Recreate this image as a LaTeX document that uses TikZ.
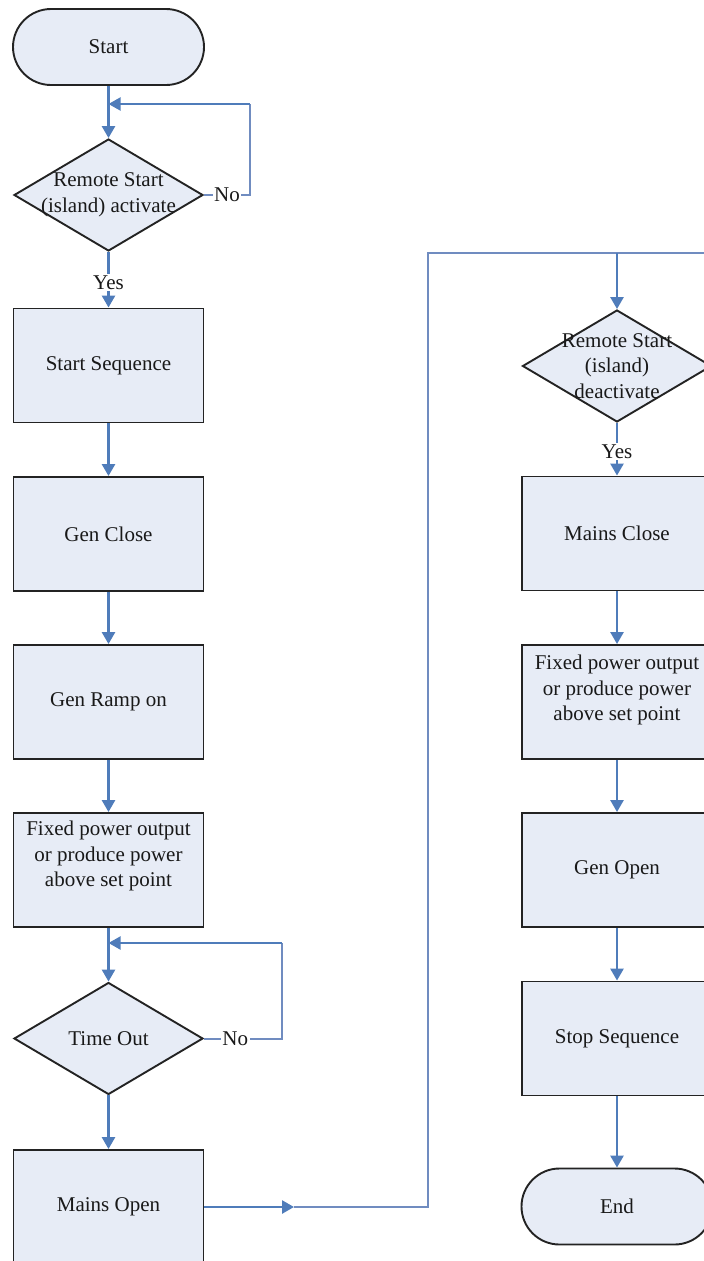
\documentclass[tikz,border=0pt]{standalone}
\usepackage{fontspec}
\setmainfont{Liberation Serif}
\usetikzlibrary{shapes.geometric,arrows.meta}
\definecolor{boxfill}{RGB}{231,236,246}
\definecolor{arrblue}{RGB}{79,124,186}
\definecolor{wire}{RGB}{112,140,192}
\definecolor{edgegray}{RGB}{35,35,35}
\definecolor{txtgray}{RGB}{25,25,25}
\begin{document}
\begin{tikzpicture}[x=1pt,y=-1pt,
  font=\fontsize{21}{25.5}\selectfont,
  every node/.style={text=txtgray},
  proc/.style={rectangle, draw=edgegray, line width=1.9pt, fill=boxfill, minimum width=190pt, minimum height=114pt, inner sep=0pt},
  term/.style={rectangle, rounded corners=38pt, draw=edgegray, line width=1.9pt, fill=boxfill, minimum width=191pt, minimum height=76pt},
  dec/.style={diamond, draw=edgegray, line width=1.9pt, fill=boxfill, minimum width=189pt, minimum height=112pt, inner sep=0pt},
  txt/.style={align=center, inner sep=0pt},
  arr/.style={draw=arrblue, line width=2.6pt, -{Triangle[length=12pt,width=13pt]}},
  wireline/.style={draw=wire, line width=2pt},
  wirearr/.style={draw=wire, line width=2pt, -{Triangle[length=12pt,width=13pt]}, arrblue},
  lbl/.style={fill=white, inner sep=1.5pt}
]
\useasboundingbox (0,0) rectangle (704,1261);
\clip (0,0) rectangle (704,1261);

% ---------- left column ----------
\node[term] (start) at (108.5,47) {Start};
\node[dec] (d1) at (108.5,195) {};
\node[txt] (d1t) at (108.5,195) {Remote Start\\(island) activate};
\node[proc] (sseq) at (108.5,365.5) {Start Sequence};
\node[proc] (gclose) at (108.5,534) {Gen Close};
\node[proc] (gramp) at (108.5,702) {Gen Ramp on};
\node[proc] (fix1) at (108.5,870) {};
\node[txt] (fix1t) at (108.5,856) {Fixed power output\\or produce power\\above set point};
\node[dec] (tout) at (108.5,1038.5) {};
\node[txt] (toutt) at (108.5,1038.5) {Time Out};
\node[proc] (mopen) at (108.5,1207) {Mains Open};

% ---------- right column ----------
\node[dec] (d2) at (617,366) {};
\node[txt] (d2t) at (617,366) {Remote Start\\(island)\\deactivate};
\node[proc] (mclose) at (617,533.5) {Mains Close};
\node[proc] (fix2) at (617,702) {};
\node[txt] (fix2t) at (617,690) {Fixed power output\\or produce power\\above set point};
\node[proc] (gopen) at (617,870) {Gen Open};
\node[proc] (stopseq) at (617,1038.5) {Stop Sequence};
\node[term] (endn) at (617,1206.5) {End};

% ---------- helper coordinates ----------
\coordinate (j1) at (108.5,104);
\coordinate (r1) at (250,104);
\coordinate (j2) at (108.5,943);
\coordinate (r2) at (282,943);
\coordinate (m1) at (294,1207);
\coordinate (c1) at (427.5,253);
\coordinate (c2) at (704,253);
\coordinate (j3) at (617,253);

% ---------- connectors left ----------
\draw[arr] (start.south) -- (d1.north);
\draw[wireline] (d1.east) -- node[lbl, pos=0.5] {No} (r1 |- d1.east) -- (r1);
\draw[wirearr] (r1) -- (j1);
\draw[arr] (d1.south) -- node[lbl, pos=0.55] {Yes} (sseq.north);
\draw[arr] (sseq.south) -- (gclose.north);
\draw[arr] (gclose.south) -- (gramp.north);
\draw[arr] (gramp.south) -- (fix1.north);
\draw[arr] (fix1.south) -- (tout.north);
\draw[wireline] (tout.east) -- node[lbl, pos=0.4] {No} (r2 |- tout.east) -- (r2);
\draw[wirearr] (r2) -- (j2);
\draw[arr] (tout.south) -- (mopen.north);

% ---------- crossing connector ----------
\draw[arr] (mopen.east) -- (m1);
\draw[wireline] (m1) -| (c1) -- (c2);
\draw[arr] (j3) -- (d2.north);

% ---------- connectors right ----------
\draw[arr] (d2.south) -- node[lbl, pos=0.55] {Yes} (mclose.north);
\draw[arr] (mclose.south) -- (fix2.north);
\draw[arr] (fix2.south) -- (gopen.north);
\draw[arr] (gopen.south) -- (stopseq.north);
\draw[arr] (stopseq.south) -- (endn.north);
\end{tikzpicture}
\end{document}
